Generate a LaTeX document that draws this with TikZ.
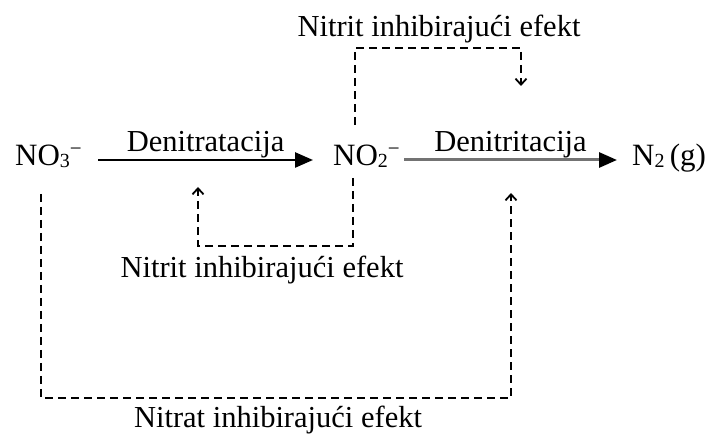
\documentclass[tikz,border=0pt]{standalone}
\usepackage{fontspec}
\setmainfont{Liberation Serif}
\usetikzlibrary{arrows.meta, positioning}
\newcommand{\chemlow}[1]{\raisebox{-2pt}{\fontsize{20}{20}\selectfont #1}}
\newcommand{\chemhigh}[1]{\raisebox{10pt}{\fontsize{21}{21}\selectfont #1}}

\begin{document}
\begin{tikzpicture}[x=1pt, y=-1pt,
  species/.style={inner sep=0pt, anchor=base west, font=\fontsize{31}{36}\selectfont},
  caption/.style={inner sep=0pt, anchor=base, font=\fontsize{30.5}{36}\selectfont},
  react/.style={line width=2.5pt, -{Triangle[length=18pt, width=15pt, color=black]}},
  inhib/.style={line width=1.8pt, dash pattern=on 8pt off 5pt, -{Straight Barb[length=6pt, width=11pt]}}]
  \useasboundingbox (0,0) rectangle (713,435);
  % species
  \node[species] (no3) at (15,166) {NO\chemlow{3}\chemhigh{−}};
  \node[species] (no2) at (333,166) {NO\chemlow{2}\chemhigh{−}};
  \node[species] (n2) at (632,166) {N\chemlow{2}\,(g)};
  % reactions
  \draw[react] ([xshift=16pt, yshift=6pt]no3.base east) -- ([xshift=-20pt, yshift=6pt]no2.base west)
    node[caption, midway, yshift=8pt] (denitrat) {Denitratacija};
  \draw[react, draw=black!55, line width=3pt] ([xshift=4pt, yshift=6pt]no2.base east) -- ([xshift=-15pt, yshift=6pt]n2.base west)
    node[caption, midway, yshift=8pt] (denitrit) {Denitritacija};
  % inhibition loops
  \coordinate (topStart) at (355,125);
  \coordinate (topTip) at (521,86);
  \coordinate (inStart) at (353,178);
  \coordinate (inTip) at (198,187);
  \coordinate (outStart) at (41,194);
  \coordinate (outTip) at (511,193);
  \draw[inhib] (topStart) -- ++(0,-77) -| (topTip);
  \draw[inhib] (inStart) -- ++(0,68) -| (inTip);
  \draw[inhib] (outStart) -- ++(0,204) -| (outTip);
  \node[caption] (nitritTop) at (439,37) {Nitrit inhibirajući efekt};
  \node[caption] (nitritBot) at (262,278) {Nitrit inhibirajući efekt};
  \node[caption] (nitrat) at (278,428) {Nitrat inhibirajući efekt};
\end{tikzpicture}
\end{document}
